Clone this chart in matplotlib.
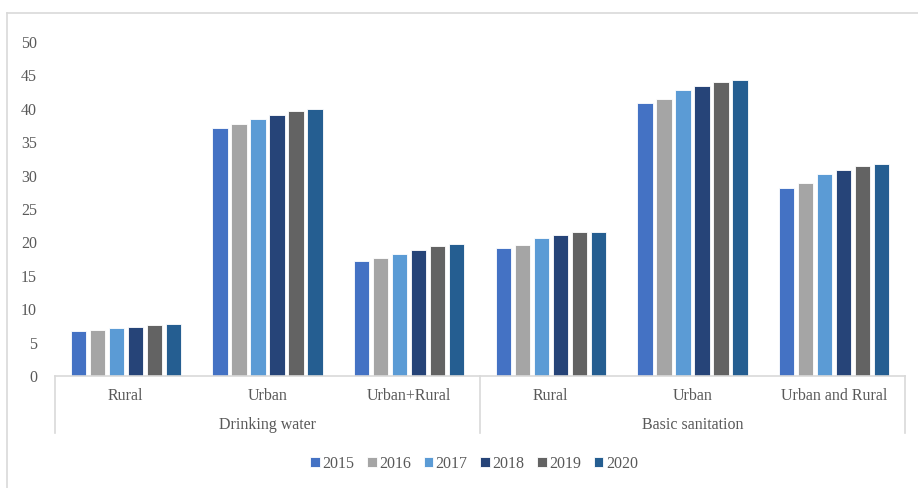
import numpy as np
import matplotlib.pyplot as plt
from matplotlib.lines import Line2D

plt.rcParams['font.family'] = ['Liberation Serif', 'DejaVu Serif']

years = ['2015', '2016', '2017', '2018', '2019', '2020']
categories = ['Rural', 'Urban', 'Urban+Rural', 'Rural', 'Urban', 'Urban and Rural']
groups = ['Drinking water', 'Basic sanitation']

s2015 = [6.7, 37.1, 17.2, 19.1, 40.8, 28.2]
s2016 = [6.9, 37.7, 17.7, 19.6, 41.5, 28.9]
s2017 = [7.2, 38.4, 18.3, 20.6, 42.8, 30.2]
s2018 = [7.4, 39.0, 18.8, 21.1, 43.4, 30.8]
s2019 = [7.6, 39.7, 19.4, 21.6, 44.0, 31.5]
s2020 = [7.8, 40.0, 19.8, 21.6, 44.3, 31.8]
series = [s2015, s2016, s2017, s2018, s2019, s2020]

colors = ['#4472C4', '#A5A5A5', '#5B9BD5', '#264478', '#636363', '#255E91']
txt = '#595959'
grid_c = '#D9D9D9'

fig = plt.figure(figsize=(9.18, 4.88), dpi=100)
ax = fig.add_axes([55 / 918, 1 - 376 / 488, 850 / 918, 334 / 488])

x = np.arange(len(categories))
step = 0.134
width = 0.107
for i, (vals, c) in enumerate(zip(series, colors)):
    ax.bar(x + (i - 2.5) * step, vals, width, color=c, label=years[i],
           edgecolor='white', linewidth=0.6, zorder=2)

ax.set_xlim(-0.5, len(categories) - 0.5)
ax.set_ylim(0, 50)
ax.set_yticks(range(0, 51, 5))
ax.tick_params(axis='y', length=0, labelsize=11.5, labelcolor=txt, pad=13)
ax.set_xticks([])
for sp in ['top', 'right', 'left']:
    ax.spines[sp].set_visible(False)
ax.spines['bottom'].set_color(grid_c)
ax.spines['bottom'].set_linewidth(1.2)

# category labels and group separators (in axes-x / figure-y coordinates)
trans = ax.get_xaxis_transform()
for xi, lab in zip(x, categories):
    ax.text(xi, -0.061, lab, transform=trans, ha='center', va='center',
            fontsize=11.5, color=txt)
for gi, g in enumerate(groups):
    ax.text(gi * 3 + 1, -0.146, g, transform=trans, ha='center', va='center',
            fontsize=11.5, color=txt)
for xs in [-0.5, 2.5, 5.5]:
    ax.add_line(Line2D([xs, xs], [0, -0.172], transform=trans, color=grid_c,
                       lw=1.2, clip_on=False))

# outer frame
fig.add_artist(Line2D([7 / 918, 1], [1 - 13 / 488, 1 - 13 / 488],
                      transform=fig.transFigure, color=grid_c, lw=1.2))
fig.add_artist(Line2D([7 / 918, 7 / 918], [0, 1 - 13 / 488],
                      transform=fig.transFigure, color=grid_c, lw=1.2))

leg = fig.legend(loc='center', bbox_to_anchor=(474 / 918, 1 - 464 / 488),
                 ncol=6, frameon=False, fontsize=11.5, handlelength=0.6,
                 handleheight=0.6, handletextpad=0.15, columnspacing=0.8)
for t in leg.get_texts():
    t.set_color(txt)

fig.savefig('out.png', dpi=100)
